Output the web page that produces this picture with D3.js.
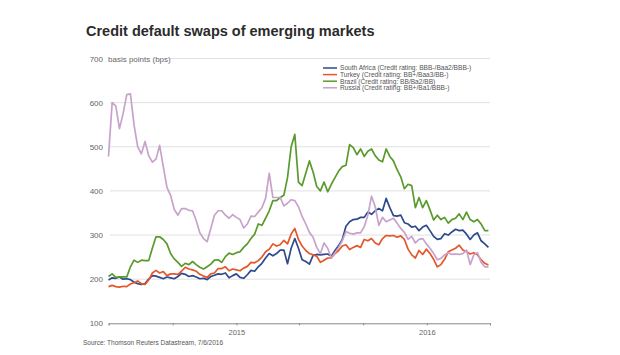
<!DOCTYPE html>
<html><head><meta charset="utf-8">
<script src="https://cdn.jsdelivr.net/npm/d3@7"></script>
<style>body{margin:0;background:#fff;} svg{display:block;font-family:"Liberation Sans",Arial,sans-serif;}</style>
</head><body>
<div id="chart"></div>
<script>
const seriesNames = ["South Africa (Credit rating: BBB-/Baa2/BBB-)","Turkey (Credit rating: BB+/Baa3/BB-)","Brazil (Credit rating: BB/Ba2/BB)","Russia (Credit rating: BB+/Ba1/BBB-)"];
const seriesColors = ["#2e4a8c","#e4572a","#5a9a2c","#c8a2cc"];
const yTicks = [100,200,300,400,500,600,700];
const xTickDates = ["2014-05-01","2014-09-01","2015-01-01","2015-05-01","2015-09-01","2016-01-01","2016-05-01"];
const xTickLabels = ["","","2015","","","2016",""];
const startDate = "2014-05-01";
const southAfrica = [198,203,202,205,200,201,199,193,190,188,190,200,208,207,204,201,205,203,201,206,213,211,206,208,205,201,202,199,206,209,212,211,214,203,208,212,204,202,210,220,218,228,236,248,258,253,258,266,266,235,270,292,270,244,240,234,254,256,255,256,257,252,265,276,290,320,330,335,336,340,340,352,347,355,360,355,383,362,344,343,345,328,325,318,320,310,318,322,310,297,290,292,303,300,307,313,310,311,302,290,300,305,287,280,272];
const turkey = [183,186,183,182,184,183,189,192,196,190,188,198,214,220,214,217,208,212,212,211,218,227,223,221,218,211,207,204,212,214,224,224,228,219,223,221,219,225,229,238,237,242,250,262,268,280,275,278,288,280,302,315,290,275,265,258,255,252,238,243,248,248,258,265,275,278,267,272,276,272,290,287,292,282,278,292,299,298,299,295,298,290,268,255,248,265,256,268,258,245,228,233,245,262,266,270,277,266,262,257,260,255,244,236,232];
const brazil = [206,212,204,205,205,205,228,243,238,243,242,242,270,296,296,290,280,258,246,238,229,236,233,240,233,227,223,228,234,243,244,238,251,259,256,260,262,272,280,292,302,325,322,338,355,378,378,385,390,430,500,528,420,412,440,468,443,410,400,420,398,415,430,445,455,458,505,498,482,495,478,490,495,480,470,466,495,478,468,448,432,405,415,412,362,385,362,378,357,334,345,335,340,327,335,338,348,335,352,335,330,335,325,310,310];
const russia = [478,600,592,541,575,618,620,549,500,484,512,480,465,472,503,455,408,390,358,345,360,360,356,355,333,305,292,285,315,345,355,355,345,338,346,340,335,316,325,343,342,352,362,383,440,385,385,385,366,372,380,378,364,342,325,306,295,272,258,282,270,248,260,272,287,308,304,302,305,305,319,345,388,364,322,340,330,334,338,327,315,306,290,297,282,290,292,280,270,258,244,247,255,260,256,257,256,258,266,233,255,260,238,228,228];
const seriesValues = [southAfrica, turkey, brazil, russia];

const W = 620, H = 355;
const svg = d3.select("#chart").append("svg").attr("width", W).attr("height", H);
const parse = d3.timeParse("%Y-%m-%d");
const t0 = parse(startDate);
const dates = d3.range(southAfrica.length).map(i => d3.timeDay.offset(t0, 7*i));

const x = d3.scaleTime().domain([parse("2014-05-01"), parse("2016-05-01")]).range([108.5, 490]);
const y = d3.scaleLinear().domain([100, 700]).range([323.3, 58.5]);

svg.append("text").attr("x", 86).attr("y", 36).attr("font-size", 14.5).attr("font-weight", "bold").attr("fill", "#2b2b2b").text("Credit default swaps of emerging markets");

// gridlines
const grid = svg.append("g");
yTicks.filter(v => v > 100).forEach(v => {
  grid.append("line").attr("x1", v === 700 ? 170 : 110).attr("x2", 490).attr("y1", y(v)).attr("y2", y(v)).attr("stroke", "#e0e0e0").attr("stroke-width", 1);
});
// y labels
const yl = svg.append("g").attr("font-size", 8).attr("fill", "#666");
yTicks.forEach(v => {
  yl.append("text").attr("x", 103).attr("y", y(v) + 3).attr("text-anchor", "end").text(v);
});
yl.append("text").attr("x", 108).attr("y", y(700) + 3).text("basis points (bps)");

// x axis
const xAxis = d3.axisBottom(x).tickValues(xTickDates.map(parse)).tickSize(2).tickFormat((d, i) => xTickLabels[i]);
const gx = svg.append("g").attr("transform", `translate(0,${y(100)})`).call(xAxis);
gx.select(".domain").attr("stroke", "#888");
gx.selectAll(".tick line").attr("stroke", "#888");
gx.selectAll(".tick text").attr("font-size", 7.5).attr("fill", "#666").attr("font-family", '"Liberation Sans",Arial,sans-serif').attr("dy", "0.9em");

// lines
const line = d3.line().x((d, i) => x(dates[i])).y(d => y(d));
seriesValues.forEach((vals, k) => {
  svg.append("path").datum(vals).attr("d", line).attr("fill", "none").attr("stroke", seriesColors[k]).attr("stroke-width", 1.7).attr("stroke-linejoin", "round");
});

// legend
const lg = svg.append("g").attr("font-size", 6.6).attr("fill", "#555");
seriesNames.forEach((n, k) => {
  const yy = 68 + k * 6.6;
  lg.append("line").attr("x1", 323).attr("x2", 337).attr("y1", yy).attr("y2", yy).attr("stroke", seriesColors[k]).attr("stroke-width", 1.5);
  lg.append("text").attr("x", 340).attr("y", yy + 2.3).text(n);
});

svg.append("text").attr("x", 83).attr("y", 345).attr("font-size", 6.5).attr("fill", "#555").text("Source: Thomson Reuters Datastream, 7/6/2016");
</script>
</body></html>
